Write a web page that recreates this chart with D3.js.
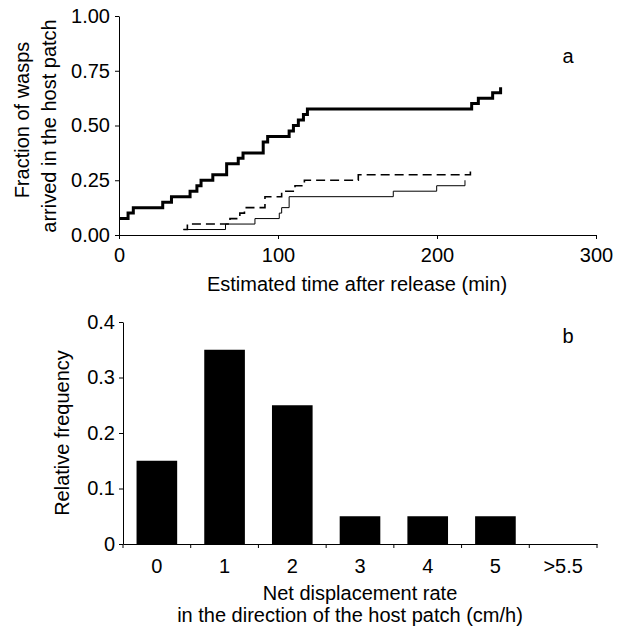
<!DOCTYPE html>
<html lang="en">
<head>
<meta charset="UTF-8">
<title>Wasp arrival and displacement</title>
<script src="https://d3js.org/d3.v7.min.js"></script>
<style>
  body { margin: 0; background: #fff; }
  svg { display: block; font-family: "Liberation Sans", Arial, sans-serif; }
  .axis path, .axis line { stroke: #000; stroke-width: 1; }
  .axis text { font-size: 20px; fill: #000; }
  .lbl { font-size: 20px; fill: #000; }
</style>
</head>
<body>
<svg id="chart" width="621" height="634"></svg>
<script>
// panel a: cumulative fraction of wasps arrived (step functions), time in min
const thickT = [0, 5.7, 9, 27.5, 33, 44.7, 49, 51.6, 59, 67.7, 75, 78, 90.7, 93.5, 107, 109.7, 112.8, 116, 118.5, 221.8, 226, 235, 240];
const thickF = [0.075, 0.1, 0.125, 0.15, 0.175, 0.2, 0.225, 0.25, 0.275, 0.325, 0.35, 0.375, 0.425, 0.45, 0.475, 0.5, 0.525, 0.55, 0.575, 0.6, 0.625, 0.65, 0.675];
const dashT = [40.5, 43, 69.8, 76, 78.9, 91.8, 102.3, 110.7, 116.6, 150.5, 221];
const dashF = [0.025, 0.05, 0.075, 0.1, 0.125, 0.175, 0.2, 0.225, 0.25, 0.275, 0.3];
const thinT = [40.5, 67, 85.5, 100.8, 102.3, 107, 172.5, 199.8, 217.6];
const thinF = [0.025, 0.05, 0.075, 0.1, 0.125, 0.175, 0.2, 0.225, 0.25];
const aYTicks = [0, 0.25, 0.5, 0.75, 1];
const aXTicks = [0, 100, 200, 300];

// panel b: relative frequency of net displacement rate
const cats = ["0", "1", "2", "3", "4", "5", ">5.5"];
const freq = [0.15, 0.35, 0.25, 0.05, 0.05, 0.05, 0];
const bYTicks = [0, 0.1, 0.2, 0.3, 0.4];

const svg = d3.select("#chart");

// ---- panel a ----
const xa = d3.scaleLinear().domain([0, 300]).range([119, 596]);
const ya = d3.scaleLinear().domain([0, 1]).range([235, 16]);

svg.append("g").attr("class", "axis")
  .attr("transform", "translate(0,235)")
  .call(d3.axisBottom(xa).tickValues(aXTicks).tickFormat(d3.format("d"))
    .tickSize(4).tickSizeOuter(0).tickPadding(9));

svg.append("g").attr("class", "axis")
  .attr("transform", "translate(119,0)")
  .call(d3.axisLeft(ya).tickValues(aYTicks).tickFormat(d3.format(".2f"))
    .tickSize(4).tickSizeOuter(0).tickPadding(5));

const step = d3.line()
  .x(d => xa(d[0]))
  .y(d => ya(d[1]))
  .curve(d3.curveStepAfter);

const series = [
  { t: thinT, f: thinF, w: 1, dash: null },
  { t: dashT, f: dashF, w: 1.6, dash: "9,5" },
  { t: thickT, f: thickF, w: 3, dash: null }
];

svg.selectAll(".step")
  .data(series)
  .enter()
  .append("path")
  .attr("class", "step")
  .attr("fill", "none")
  .attr("stroke", "#000")
  .attr("stroke-width", d => d.w)
  .attr("stroke-dasharray", d => d.dash)
  .attr("d", d => step(d.t.map((t, i) => [t, d.f[i]])));

svg.append("text").attr("class", "lbl")
  .attr("x", 357).attr("y", 291).attr("text-anchor", "middle")
  .text("Estimated time after release (min)");

svg.append("text").attr("class", "lbl")
  .attr("transform", "translate(29,120) rotate(-90)")
  .attr("text-anchor", "middle")
  .text("Fraction of wasps");
svg.append("text").attr("class", "lbl")
  .attr("transform", "translate(56,126) rotate(-90)")
  .attr("text-anchor", "middle")
  .text("arrived in the host patch");

svg.append("text").attr("class", "lbl")
  .attr("x", 568).attr("y", 63).attr("text-anchor", "middle")
  .text("a");

// ---- panel b ----
const xb = d3.scaleBand().domain(cats).range([123, 597])
  .paddingInner(0.4).paddingOuter(0.2);
const yb = d3.scaleLinear().domain([0, 0.4]).range([544, 322]);

svg.selectAll(".bar")
  .data(freq)
  .enter()
  .append("rect")
  .attr("class", "bar")
  .attr("x", (d, i) => xb(cats[i]))
  .attr("y", d => yb(d))
  .attr("width", xb.bandwidth())
  .attr("height", d => yb(0) - yb(d))
  .attr("fill", "#000");

svg.append("g").attr("class", "axis")
  .attr("transform", "translate(123,0)")
  .call(d3.axisLeft(yb).tickValues(bYTicks).tickFormat(d => d === 0 ? "0" : d3.format(".1f")(d))
    .tickSize(4).tickSizeOuter(0).tickPadding(4));

const xAxisB = svg.append("g").attr("class", "axis")
  .attr("transform", "translate(0,544)")
  .call(d3.axisBottom(xb).tickSize(0).tickPadding(15));

// ticks at category boundaries
const bounds = d3.range(cats.length + 1).map(i => xb.range()[0] + i * xb.step());
xAxisB.selectAll(".bound")
  .data(bounds)
  .enter()
  .append("line")
  .attr("class", "bound")
  .attr("x1", d => d).attr("x2", d => d)
  .attr("y1", 0).attr("y2", 4);

svg.append("text").attr("class", "lbl")
  .attr("x", 360).attr("y", 600).attr("text-anchor", "middle")
  .text("Net displacement rate");
svg.append("text").attr("class", "lbl")
  .attr("x", 350).attr("y", 622).attr("text-anchor", "middle")
  .text("in the direction of the host patch (cm/h)");

svg.append("text").attr("class", "lbl")
  .attr("transform", "translate(69,433) rotate(-90)")
  .attr("text-anchor", "middle")
  .text("Relative frequency");

svg.append("text").attr("class", "lbl")
  .attr("x", 568).attr("y", 343).attr("text-anchor", "middle")
  .text("b");
</script>
</body>
</html>
